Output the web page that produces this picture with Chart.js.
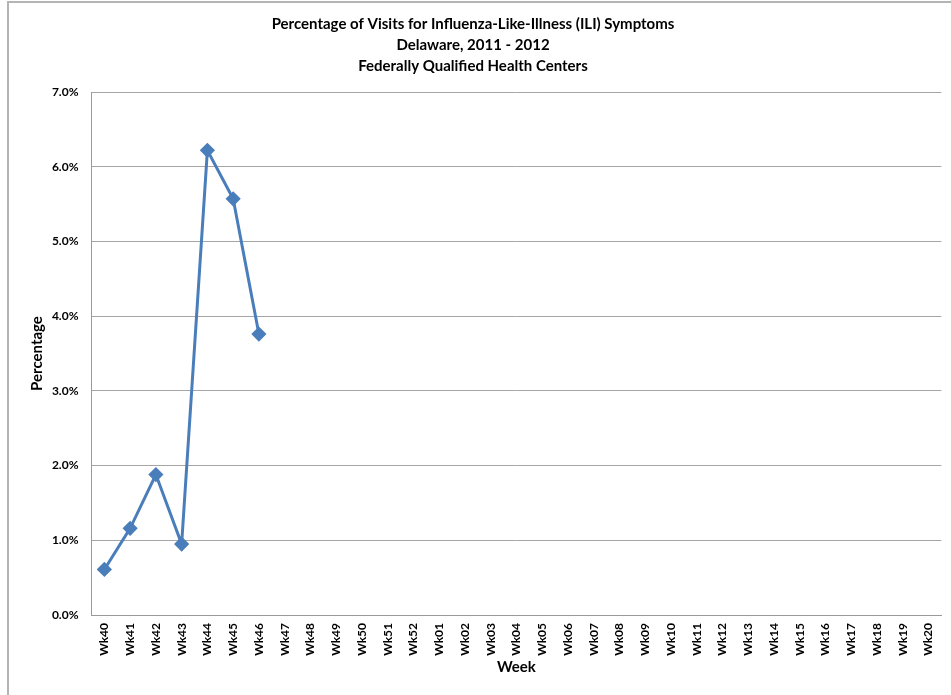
<!DOCTYPE html>
<html>
<head>
<meta charset="utf-8">
<script src="https://cdn.jsdelivr.net/npm/chart.js@4"></script>
<style>
  body { margin: 0; background: #fff; overflow: hidden; }
  #wrap { position: relative; width: 951px; height: 695px; }
  #frame {
    position: absolute; left: 7px; top: 1px; width: 980px; height: 720px;
    border: 2px solid #b4b4b4; pointer-events: none;
  }
</style>
</head>
<body>
<div id="wrap">
  <canvas id="iliChart" width="951" height="695"></canvas>
  <div id="frame"></div>
</div>
<script>
// ==============================
// DATA
// ==============================
const weeks = [
  "Wk40", "Wk41", "Wk42", "Wk43", "Wk44", "Wk45", "Wk46", "Wk47", "Wk48", "Wk49",
  "Wk50", "Wk51", "Wk52", "Wk01", "Wk02", "Wk03", "Wk04", "Wk05", "Wk06", "Wk07",
  "Wk08", "Wk09", "Wk10", "Wk11", "Wk12", "Wk13", "Wk14", "Wk15", "Wk16", "Wk17",
  "Wk18", "Wk19", "Wk20"
];

// percent of visits, only reported weeks so far
const iliPercent = [0.61, 1.16, 1.88, 0.95, 6.22, 5.57, 3.76];

const titleLines = [
  "Percentage of Visits for Influenza-Like-Illness (ILI) Symptoms",
  "Delaware, 2011 - 2012",
  "Federally Qualified Health Centers"
];

const FONT = "'Liberation Sans Narrow', 'Arial Narrow', Lato, sans-serif";

// pad the series out to the full season
const seriesData = weeks.map((w, i) => (i < iliPercent.length ? iliPercent[i] : null));

// ==============================
// CHART
// ==============================
const ctx = document.getElementById("iliChart");

new Chart(ctx, {
  type: "line",
  data: {
    labels: weeks,
    datasets: [{
      label: "ILI %",
      data: seriesData,
      borderColor: "#4a7ebb",
      backgroundColor: "#4a7ebb",
      borderWidth: 3,
      pointStyle: "rectRot",
      pointRadius: 5.5,
      pointHoverRadius: 5.5,
      tension: 0,
      spanGaps: false
    }]
  },
  options: {
    responsive: false,
    animation: false,
    devicePixelRatio: 1,
    layout: { padding: { left: 0, right: 5, top: 0, bottom: 0 } },
    plugins: {
      legend: { display: false },
      tooltip: { enabled: false },
      title: {
        display: true,
        text: titleLines,
        color: "#000",
        font: { family: FONT, size: 15, weight: "bold", lineHeight: 1.4 },
        padding: { top: 14, bottom: 15 }
      }
    },
    scales: {
      x: {
        offset: true,
        grid: { drawOnChartArea: false, drawTicks: false },
        border: { display: true, color: "#9a9a9a", width: 1 },
        ticks: {
          color: "#000",
          minRotation: 90,
          maxRotation: 90,
          autoSkip: false,
          padding: 8,
          font: { family: FONT, size: 12, weight: "bold" }
        },
        title: {
          display: true,
          text: "Week",
          color: "#000",
          font: { family: FONT, size: 15, weight: "bold" },
          padding: { top: 0, bottom: 19 }
        },
        afterFit: (scale) => { scale.height = 80; }
      },
      y: {
        min: 0,
        max: 7,
        grid: { color: "#a6a6a6", lineWidth: 1, drawTicks: false },
        border: { display: true, color: "#9a9a9a", width: 1 },
        ticks: {
          stepSize: 1,
          color: "#000",
          padding: 13,
          font: { family: FONT, size: 12, weight: "bold" },
          callback: (v) => v.toFixed(1) + "%"
        },
        title: {
          display: true,
          text: "Percentage",
          color: "#000",
          font: { family: FONT, size: 15, weight: "bold" },
          padding: { top: 28, bottom: 0 }
        },
        afterFit: (scale) => { scale.width = 91.5; }
      }
    }
  }
});
</script>
</body>
</html>
